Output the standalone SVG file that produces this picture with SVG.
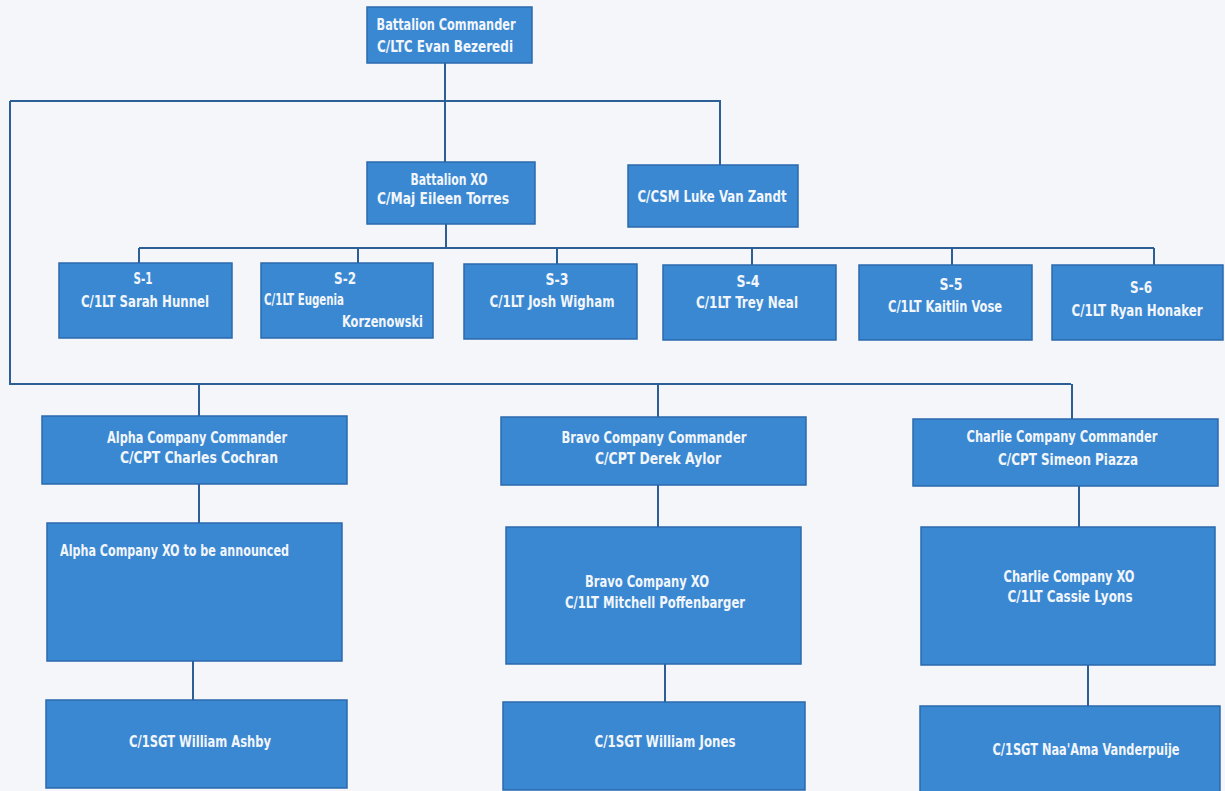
<svg xmlns="http://www.w3.org/2000/svg" width="1225" height="791" viewBox="0 0 1225 791">
<style>
.bg{fill:#f4f6fa}
.box{fill:#3a88d2;stroke:#2b69ad;stroke-width:1.5}
.ln{fill:none;stroke:#2b5f96;stroke-width:2}
text{font-family:"Liberation Sans Narrow","DejaVu Sans Condensed","Roboto Condensed","Liberation Sans",sans-serif;font-weight:bold;font-size:16px;fill:#f2f6fb}
.c{text-anchor:middle}
.r{text-anchor:end}
</style>
<rect class="bg" x="0" y="0" width="1225" height="791"/>
<g id="connectors">
<path class="ln" d="M445,63 V162 M10,101 H720 V165 M10,101 V384 H1071 M446,224 V248 M139,248 H1154 M139,248 V263 M358,248 V263 M557,248 V264 M752,248 V265 M952,248 V265 M1154,248 V265 M199,384 V416 M658,384 V417 M1072,384 V419 M199,484 V523 M658,485 V527 M1079,486 V527 M193,661 V700 M665,664 V702 M1088,665 V706"/>
</g>
<g id="bc"><rect class="box" x="367" y="7" width="165" height="56"/><text class="c" x="446" y="30" textLength="139" lengthAdjust="spacingAndGlyphs">Battalion Commander</text><text class="c" x="445" y="52" textLength="136" lengthAdjust="spacingAndGlyphs">C/LTC Evan Bezeredi</text></g>
<g id="bxo"><rect class="box" x="367" y="162" width="168" height="62"/><text class="c" x="449" y="185" textLength="77" lengthAdjust="spacingAndGlyphs">Battalion XO</text><text class="c" x="443" y="204" textLength="132" lengthAdjust="spacingAndGlyphs">C/Maj Eileen Torres</text></g>
<g id="csm"><rect class="box" x="628" y="165" width="170" height="62"/><text class="c" x="712" y="202" textLength="149" lengthAdjust="spacingAndGlyphs">C/CSM Luke Van Zandt</text></g>
<g id="s1"><rect class="box" x="59" y="263" width="173" height="75"/><text class="c" x="143" y="284" textLength="19" lengthAdjust="spacingAndGlyphs">S-1</text><text class="c" x="145" y="307" textLength="128" lengthAdjust="spacingAndGlyphs">C/1LT Sarah Hunnel</text></g>
<g id="s2"><rect class="box" x="261" y="263" width="172" height="75"/><text class="c" x="345" y="284" textLength="22" lengthAdjust="spacingAndGlyphs">S-2</text><text x="264" y="305" textLength="80" lengthAdjust="spacingAndGlyphs">C/1LT Eugenia</text><text class="r" x="423" y="327" textLength="81" lengthAdjust="spacingAndGlyphs">Korzenowski</text></g>
<g id="s3"><rect class="box" x="464" y="264" width="173" height="75"/><text class="c" x="557" y="285" textLength="23" lengthAdjust="spacingAndGlyphs">S-3</text><text class="c" x="552" y="307" textLength="125" lengthAdjust="spacingAndGlyphs">C/1LT Josh Wigham</text></g>
<g id="s4"><rect class="box" x="663" y="265" width="173" height="75"/><text class="c" x="748" y="287" textLength="23" lengthAdjust="spacingAndGlyphs">S-4</text><text class="c" x="747" y="308" textLength="102" lengthAdjust="spacingAndGlyphs">C/1LT Trey Neal</text></g>
<g id="s5"><rect class="box" x="859" y="265" width="173" height="75"/><text class="c" x="951" y="290" textLength="23" lengthAdjust="spacingAndGlyphs">S-5</text><text class="c" x="945" y="312" textLength="114" lengthAdjust="spacingAndGlyphs">C/1LT Kaitlin Vose</text></g>
<g id="s6"><rect class="box" x="1052" y="265" width="171" height="75"/><text class="c" x="1141" y="293" textLength="22" lengthAdjust="spacingAndGlyphs">S-6</text><text class="c" x="1137" y="316" textLength="131" lengthAdjust="spacingAndGlyphs">C/1LT Ryan Honaker</text></g>
<g id="acc"><rect class="box" x="42" y="416" width="305" height="68"/><text class="c" x="197" y="443" textLength="180" lengthAdjust="spacingAndGlyphs">Alpha Company Commander</text><text class="c" x="199" y="463" textLength="158" lengthAdjust="spacingAndGlyphs">C/CPT Charles Cochran</text></g>
<g id="bcc"><rect class="box" x="501" y="417" width="305" height="68"/><text class="c" x="654" y="443" textLength="185" lengthAdjust="spacingAndGlyphs">Bravo Company Commander</text><text class="c" x="658" y="464" textLength="126" lengthAdjust="spacingAndGlyphs">C/CPT Derek Aylor</text></g>
<g id="ccc"><rect class="box" x="913" y="419" width="305" height="67"/><text class="c" x="1062" y="442" textLength="191" lengthAdjust="spacingAndGlyphs">Charlie Company Commander</text><text class="c" x="1068" y="465" textLength="140" lengthAdjust="spacingAndGlyphs">C/CPT Simeon Piazza</text></g>
<g id="axo"><rect class="box" x="47" y="523" width="295" height="138"/><text x="60" y="556" textLength="229" lengthAdjust="spacingAndGlyphs">Alpha Company XO to be announced</text></g>
<g id="bxo2"><rect class="box" x="506" y="527" width="295" height="137"/><text class="c" x="647" y="587" textLength="124" lengthAdjust="spacingAndGlyphs">Bravo Company XO</text><text class="c" x="655" y="608" textLength="180" lengthAdjust="spacingAndGlyphs">C/1LT Mitchell Poffenbarger</text></g>
<g id="cxo"><rect class="box" x="921" y="527" width="294" height="138"/><text class="c" x="1069" y="582" textLength="131" lengthAdjust="spacingAndGlyphs">Charlie Company XO</text><text class="c" x="1070" y="602" textLength="125" lengthAdjust="spacingAndGlyphs">C/1LT Cassie Lyons</text></g>
<g id="a1sg"><rect class="box" x="46" y="700" width="301" height="88"/><text class="c" x="200" y="747" textLength="142" lengthAdjust="spacingAndGlyphs">C/1SGT William Ashby</text></g>
<g id="b1sg"><rect class="box" x="503" y="702" width="302" height="88"/><text class="c" x="665" y="747" textLength="141" lengthAdjust="spacingAndGlyphs">C/1SGT William Jones</text></g>
<g id="c1sg"><rect class="box" x="920" y="706" width="300" height="90"/><text class="c" x="1086" y="755" textLength="187" lengthAdjust="spacingAndGlyphs">C/1SGT Naa'Ama Vanderpuije</text></g>
</svg>
